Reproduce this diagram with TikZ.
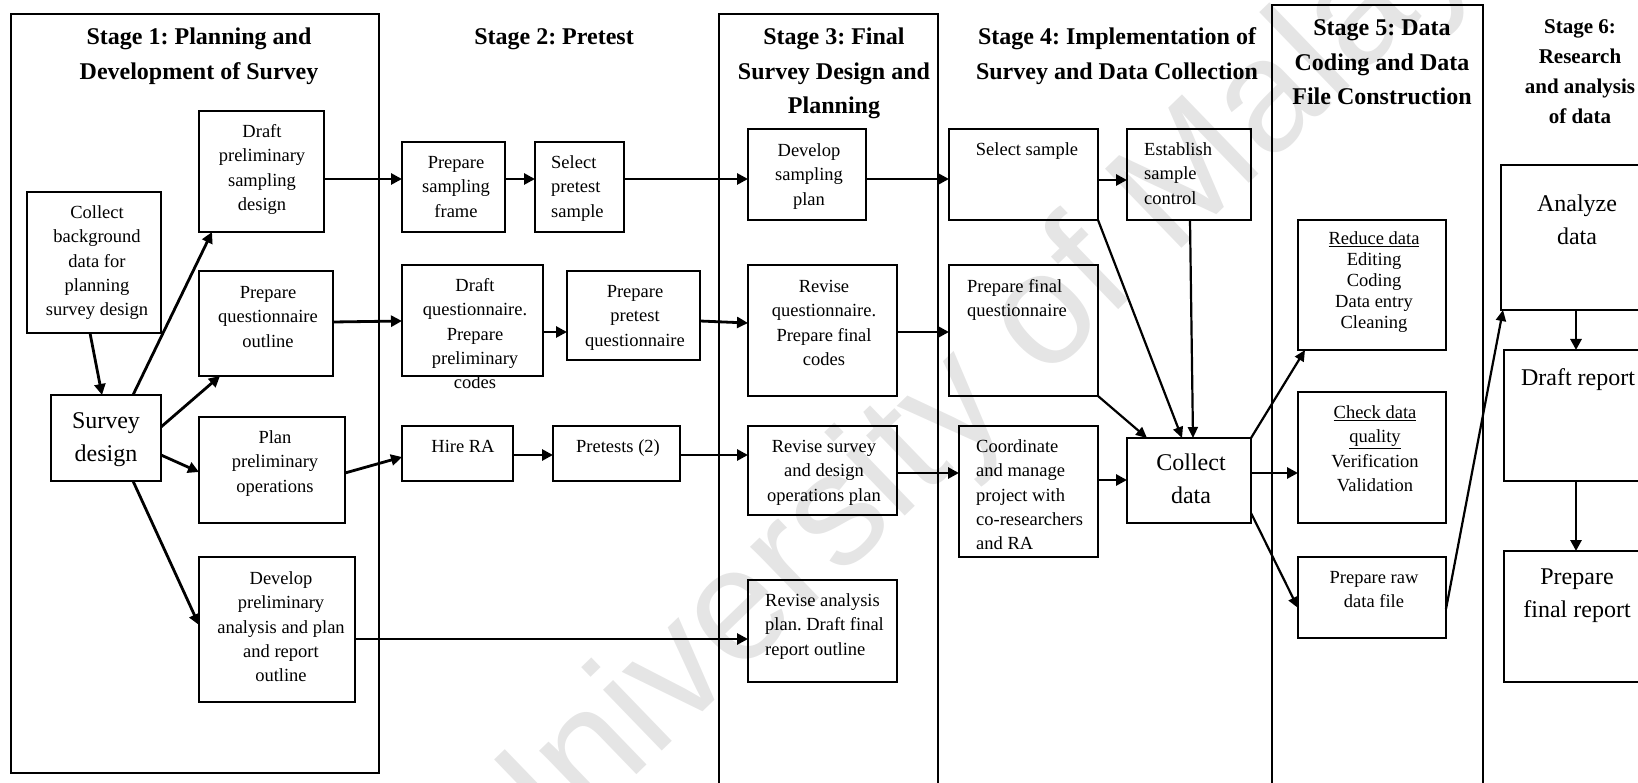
\documentclass[tikz,border=0pt]{standalone}
\usepackage{fontspec}
\setmainfont{Liberation Serif}
\setsansfont{Liberation Sans}
\usetikzlibrary{arrows.meta,calc}
\frenchspacing
\newcommand\mkbox[6][bx]{\node[#1,minimum width={(#5)-(#3)},minimum height={(#6)-(#4)}] (#2) at ({((#3)+(#5))/2},{((#4)+(#6))/2}) {};}
\newcommand\mktxt[4][txt]{\node[#1] (#2) at (#3) {\strut #4};}
\begin{document}
\begin{tikzpicture}[x=1pt,y=-1pt,
  bx/.style={draw,line width=1.2pt,inner sep=0pt,outer sep=0pt},
  stageframe/.style={draw,line width=1.3pt,inner sep=0pt,outer sep=0pt},
  txt/.style={inner sep=0pt,anchor=north,yshift=10.8pt,align=center,font=\fontsize{18.5}{24.3}\selectfont\frenchspacing},
  txl/.style={txt,anchor=north west,align=left},
  txs/.style={inner sep=0pt,anchor=north,yshift=10.4pt,align=center,font=\fontsize{18.5}{21}\selectfont},
  big/.style={inner sep=0pt,anchor=north,yshift=13.8pt,align=center,font=\fontsize{24}{33}\selectfont},
  ttl/.style={inner sep=0pt,anchor=north,yshift=16.5pt,align=center,font=\fontsize{24}{34.5}\selectfont\bfseries\frenchspacing},
  ttls/.style={inner sep=0pt,anchor=north,yshift=15pt,align=center,font=\fontsize{21}{30}\selectfont\bfseries},
  arr/.style={line width=2.8pt,-{Triangle[length=11pt,width=11pt]}},
  thin/.style={line width=2.2pt,-{Triangle[length=11pt,width=10pt]}},
  wmark/.style={rotate=44,inner sep=0pt,font=\sffamily\fontsize{160}{160}\selectfont,text=black!10}
]
\useasboundingbox (0,0) rectangle (1638,783);
\node[wmark] (wm) at (997,370) {University of Malaya};

% stage frames
\mkbox[stageframe]{s1}{11}{14}{379}{773}
\mkbox[stageframe]{s3}{719}{14}{938}{820}
\mkbox[stageframe]{s5}{1272}{5}{1483}{820}

% titles
\mktxt[ttl]{t1}{199,37}{Stage 1: Planning and\\Development of Survey}
\mktxt[ttl]{t2}{554,37}{Stage 2: Pretest}
\mktxt[ttl]{t3}{834,37}{Stage 3: Final\\Survey Design and\\Planning}
\mktxt[ttl]{t4}{1117,37}{Stage 4: Implementation of\\Survey and Data Collection}
\mktxt[ttl]{t5}{1382,28}{Stage 5: Data\\Coding and Data\\File Construction}
\mktxt[ttls]{t6}{1580,27}{Stage 6:\\Research\\and analysis\\of data}

% stage 1 boxes
\mkbox{dps}{199}{111}{324}{232}
\mkbox{cbd}{27}{192}{161}{333}
\mkbox{pqo}{199}{271}{333}{376}
\mkbox{sd}{51}{395}{161}{481}
\mkbox{ppo}{199}{417}{345}{523}
\mkbox{dpa}{199}{557}{355}{702}
% stage 2 boxes
\mkbox{psf}{402}{142}{505}{232}
\mkbox{sps}{535}{142}{624}{232}
\mkbox{dq}{402}{265}{543}{376}
\mkbox{ppq}{567}{271}{700}{360}
\mkbox{hire}{402}{426}{513}{481}
\mkbox{pre}{553}{426}{680}{481}
% stage 3 boxes
\mkbox{dsp}{748}{129}{866}{220}
\mkbox{rq}{748}{265}{897}{396}
\mkbox{rsd}{748}{426}{897}{515}
\mkbox{rap}{748}{580}{897}{682}
% stage 4 boxes
\mkbox{ss}{949}{129}{1098}{220}
\mkbox{esc}{1127}{129}{1251}{220}
\mkbox{pfq}{949}{265}{1098}{396}
\mkbox{cor}{959}{426}{1098}{557}
\mkbox{cd}{1127}{438}{1251}{523}
% stage 5 boxes
\mkbox{rd}{1298}{220}{1446}{350}
\mkbox{cdq}{1298}{392}{1446}{523}
\mkbox{prdf}{1298}{557}{1446}{638}
% stage 6 boxes
\mkbox{ad}{1501}{165}{1655}{310}
\mkbox{dr}{1504}{350}{1655}{481}
\mkbox{pfr}{1504}{551}{1655}{682}

% texts
\mktxt{dps-t}{262,131}{Draft\\preliminary\\sampling\\design}
\mktxt{cbd-t}{97,212}{Collect\\background\\data for\\planning\\survey design}
\mktxt{pqo-t}{268,292}{Prepare\\questionnaire\\outline}
\mktxt[big]{sd-t}{106,419}{Survey\\design}
\mktxt{ppo-t}{275,437}{Plan\\preliminary\\operations}
\mktxt{dpa-t}{281,578}{Develop\\preliminary\\analysis and plan\\and report\\outline}
\mktxt{psf-t}{456,162}{Prepare\\sampling\\frame}
\mktxt[txl]{sps-t}{551,162}{Select\\pretest\\sample}
\mktxt{dq-t}{475,285}{Draft\\questionnaire.\\Prepare\\preliminary\\codes}
\mktxt{ppq-t}{635,291}{Prepare\\pretest\\questionnaire}
\mktxt{hire-t}{463,446}{Hire RA}
\mktxt{pre-t}{618,446}{Pretests (2)}
\mktxt{dsp-t}{809,150}{Develop\\sampling\\plan}
\mktxt{rq-t}{824,286}{Revise\\questionnaire.\\Prepare final\\codes}
\mktxt{rsd-t}{824,446}{Revise survey\\and design\\operations plan}
\mktxt[txl]{rap-t}{765,600}{Revise analysis\\plan. Draft final\\report outline}
\mktxt{ss-t}{1027,149}{Select sample}
\mktxt[txl]{esc-t}{1144,149}{Establish\\sample\\control}
\mktxt[txl]{pfq-t}{967,286}{Prepare final\\questionnaire}
\mktxt[txl]{cor-t}{976,446}{Coordinate\\and manage\\project with\\co-researchers\\and RA}
\mktxt[big]{cd-t}{1191,461}{Collect\\data}
\mktxt[txs]{rd-t}{1374,240}{\underline{Reduce data}\\Editing\\Coding\\Data entry\\Cleaning}
\mktxt{cdq-t}{1375,412}{\underline{Check data}\\\underline{quality}\\Verification\\Validation}
\mktxt{prdf-t}{1374,577}{Prepare raw\\data file}
\mktxt[big]{ad-t}{1577,202}{Analyze\\data}
\mktxt[big]{dr-t}{1578,376}{Draft report}
\mktxt[big]{pfr-t}{1577,575}{Prepare\\final report}

% connectors stage 1
\draw[arr] ($(cbd.south west)+(63,0)$) -- ($(sd.north west)+(51,0)$);
\draw[arr] ($(sd.north west)+(82,0)$) -- ($(dps.south west)+(13,0)$);
\draw[arr] ($(sd.north east)+(0,32)$) -- ($(pqo.south west)+(21,0)$);
\draw[arr] ($(sd.north east)+(0,60)$) -- ($(ppo.north west)+(0,55)$);
\draw[arr] ($(sd.south west)+(82,0)$) -- ($(dpa.north west)+(0,68)$);
\draw[arr] ($(dps.north east)+(0,68)$) -- ($(psf.north west)+(0,37)$);
\draw[arr] ($(pqo.north east)+(0,51)$) -- ($(dq.north west)+(0,56)$);
\draw[arr] ($(ppo.north east)+(0,56)$) -- ($(hire.north west)+(0,31)$);
\draw[arr] ($(dpa.north east)+(0,82)$) -- ($(rap.north west)+(0,59)$);
% stage 2
\draw[arr] ($(psf.north east)+(0,37)$) -- ($(sps.north west)+(0,37)$);
\draw[arr] ($(sps.north east)+(0,37)$) -- ($(dsp.north west)+(0,50)$);
\draw[arr] ($(dq.north east)+(0,67)$) -- ($(ppq.north west)+(0,61)$);
\draw[arr] ($(ppq.north east)+(0,50)$) -- ($(rq.north west)+(0,58)$);
\draw[arr] ($(hire.north east)+(0,29)$) -- ($(pre.north west)+(0,29)$);
\draw[arr] ($(pre.north east)+(0,29)$) -- ($(rsd.north west)+(0,29)$);
% stage 3
\draw[arr] ($(dsp.north east)+(0,50)$) -- ($(ss.north west)+(0,50)$);
\draw[arr] ($(rq.north east)+(0,67)$) -- ($(pfq.north west)+(0,67)$);
\draw[arr] ($(rsd.north east)+(0,47)$) -- ($(cor.north west)+(0,47)$);
% stage 4
\draw[arr] ($(ss.north east)+(0,51)$) -- ($(esc.north west)+(0,51)$);
\draw[thin] (ss.south east) -- ($(cd.north west)+(55,0)$);
\draw[thin] ($(esc.south west)+(63,0)$) -- ($(cd.north west)+(66,0)$);
\draw[thin] (pfq.south east) -- ($(cd.north west)+(20,0)$);
\draw[arr] ($(cor.north east)+(0,54)$) -- ($(cd.north west)+(0,42)$);
% stage 5
\draw[arr] ($(cd.north east)+(0,35)$) -- ($(cdq.north west)+(0,81)$);
\draw[thin] (cd.north east) -- ($(rd.south west)+(7,0)$);
\draw[thin] ($(cd.north east)+(0,75)$) -- ($(prdf.north west)+(0,51)$);
\draw[thin] ($(prdf.north east)+(0,52)$) -- ($(ad.south west)+(2,0)$);
% stage 6
\draw[arr] ($(ad.south west)+(75,0)$) -- ($(dr.north west)+(72,0)$);
\draw[arr] ($(dr.south west)+(72,0)$) -- ($(pfr.north west)+(72,0)$);
\end{tikzpicture}
\end{document}
